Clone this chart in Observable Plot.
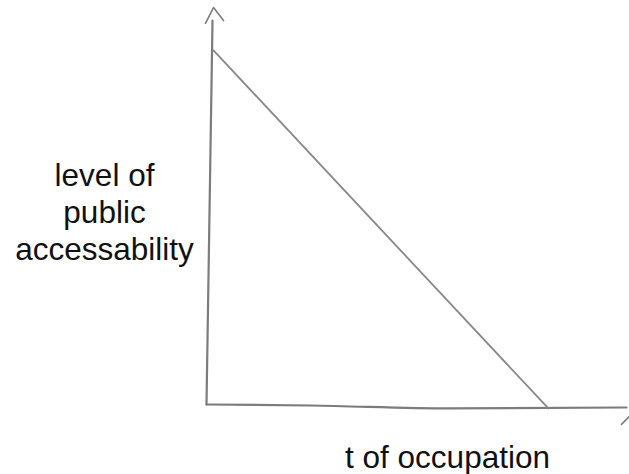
<!DOCTYPE html>
<html><head><meta charset="utf-8">
<script src="https://cdn.jsdelivr.net/npm/d3@7"></script>
<script src="https://cdn.jsdelivr.net/npm/@observablehq/plot@0.6"></script>
<style>body{margin:0;background:#fff}</style>
</head><body><div id="chart"></div>
<script>
// hand sketch: accessibility declines linearly with time of occupation
const trendT = [1.67, 81.4];
const trendLevel = [89.2, -1.0];
const yAxisT = [0, 1.43];
const yAxisLevel = [0, 96.7];
const xAxisT = [0, 24.8, 58.1, 100];
const xAxisLevel = [0, -0.25, -1.0, -0.75];
const arrowT = [-0.24, 1.67, 4.05];
const arrowLevel = [96.0, 100, 96.7];
const xArrowT = [98.8, 100.7];
const xArrowLevel = [-5.0, -3.0];
const yLabel = "level of\npublic\naccessability";
const xLabel = "t of occupation";

const zip = (xs, ys) => xs.map((x, i) => ({x, y: ys[i]}));
const ink = "#7c7c7c";

const chart = Plot.plot({
  width: 629, height: 474,
  marginLeft: 206, marginRight: 3, marginTop: 7, marginBottom: 70,
  x: {domain: [0, 100], axis: null},
  y: {domain: [0, 100], axis: null},
  style: {fontFamily: "Liberation Sans, Arial, sans-serif", background: "#fff"},
  marks: [
    Plot.line(zip(yAxisT, yAxisLevel), {x: "x", y: "y", stroke: ink, strokeWidth: 2.2}),
    Plot.line(zip(xAxisT, xAxisLevel), {x: "x", y: "y", stroke: ink, strokeWidth: 2.2, curve: "monotone-x"}),
    Plot.line(zip(arrowT, arrowLevel), {x: "x", y: "y", stroke: ink, strokeWidth: 1.6}),
    Plot.line(zip(xArrowT, xArrowLevel), {x: "x", y: "y", stroke: ink, strokeWidth: 1.6}),
    Plot.line(zip(trendT, trendLevel), {x: "x", y: "y", stroke: "#888", strokeWidth: 1.8}),
    Plot.text([yLabel], {frameAnchor: "left", dx: -102, dy: 5, text: d => d, fontSize: 31.5, lineHeight: 1.175, fill: "#111", textAnchor: "middle"}),
    Plot.text([xLabel], {frameAnchor: "bottom", lineAnchor: "bottom", dx: 31, dy: 63, text: d => d, fontSize: 31.5, fill: "#111", textAnchor: "middle"})
  ]
});
document.getElementById("chart").appendChild(chart);
</script>
</body></html>
